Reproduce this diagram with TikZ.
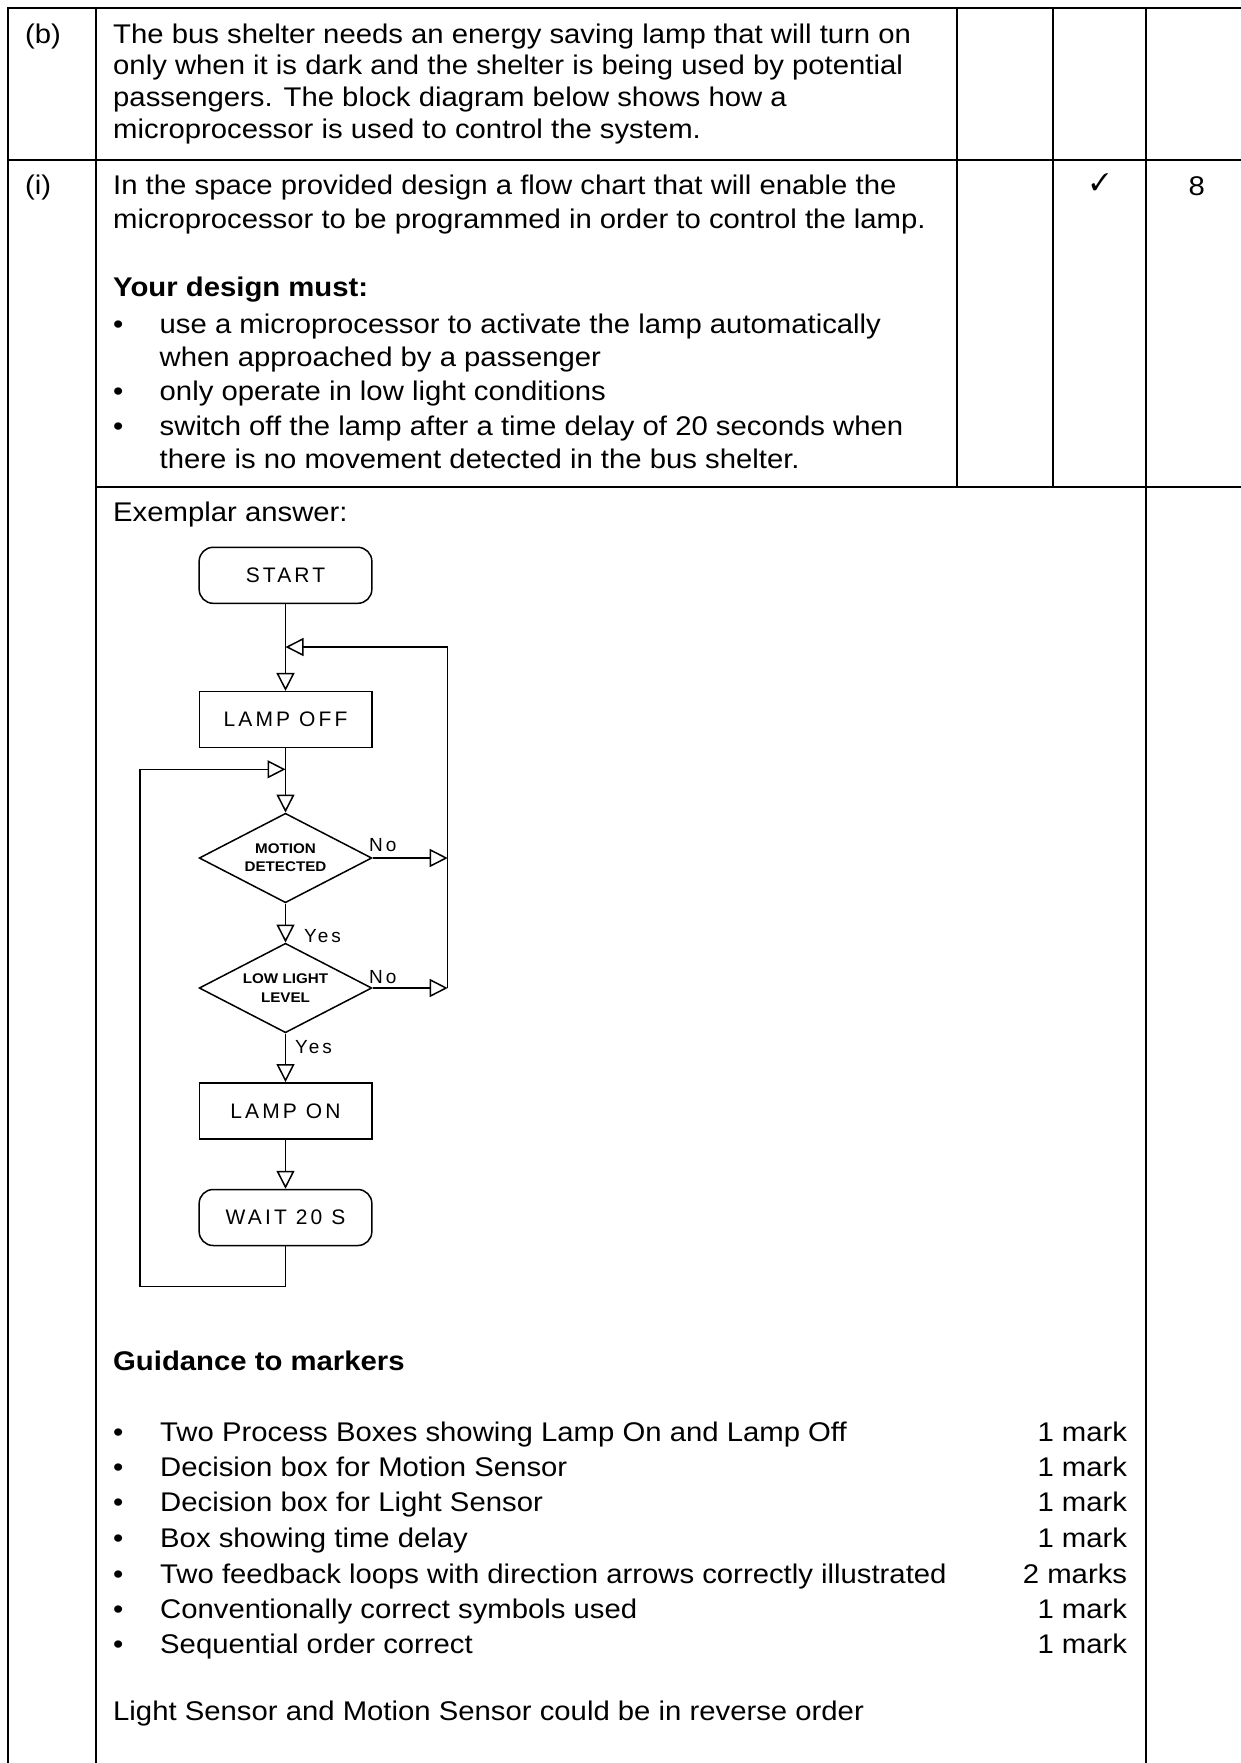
\documentclass[tikz,border=0pt]{standalone}
\usepackage{fontspec}
\usepackage{pifont}
\setmainfont{Liberation Sans}[FakeStretch=1.085]
\newfontfamily\chartfont[LetterSpace=15]{Liberation Sans}
\usetikzlibrary{arrows.meta,shapes.geometric}
\begin{document}
\begin{tikzpicture}[x=1pt,y=-1pt,
  grid/.style={line width=2.2pt, line cap=rect},
  txt/.style={anchor=base west, inner sep=0pt, font=\fontsize{27}{32}\selectfont},
  txtb/.style={txt, font=\fontsize{27}{32}\selectfont\bfseries},
  marktxt/.style={anchor=base east, inner sep=0pt, font=\fontsize{27}{32}\selectfont},
  bul/.style={anchor=base west, inner sep=0pt, font=\fontsize{27}{32}\selectfont},
  fl/.style={line width=1.5pt},
  term/.style={fl, draw, rounded corners=14pt, minimum width=172.7pt, minimum height=56pt, inner sep=0pt, font=\chartfont\fontsize{21}{25}\selectfont},
  proc/.style={fl, draw, rectangle, minimum width=172.5pt, minimum height=56pt, inner sep=0pt, font=\chartfont\fontsize{21}{25}\selectfont},
  dec/.style={fl, draw, diamond, aspect=1.93, minimum width=172.7pt, minimum height=89.5pt, inner sep=0pt, align=center, font=\bfseries\fontsize{14}{18.3}\selectfont},
  lbl/.style={anchor=base west, inner sep=0pt, font=\chartfont\fontsize{19}{22}\selectfont},
  arr/.style={fl, -{Triangle[open,length=18pt,width=18pt]}}
]
\useasboundingbox (0,0) rectangle (1240,1763);

% table frame
\draw[grid] (1240,8) -- (8,8) -- (8,1763);
\draw[grid] (96,8) -- (96,1763);
\draw[grid] (8,160) -- (1240,160);
\draw[grid] (96,486.7) -- (1240,486.7);
\draw[grid] (957,8) -- (957,486.7);
\draw[grid] (1053,8) -- (1053,486.7);
\draw[grid] (1146,8) -- (1146,1763);

% row (b)
\node[txt] (lb) at (25,43.3) {(b)};
\node[txt] (b1) at (113,43.3) {The bus shelter needs an energy saving lamp that will turn on};
\node[txt] (b2) at (113,75) {only when it is dark and the shelter is being used by potential};
\node[txt] (b3) at (113,106.7) {passengers. The block diagram below shows how a};
\node[txt] (b4) at (113,138.3) {microprocessor is used to control the system.};

% row (i)
\node[txt] (li) at (25,195) {(i)};
\node[txt] (i1) at (113,195) {In the space provided design a flow chart that will enable the};
\node[txt] (i2) at (113,228.3) {microprocessor to be programmed in order to control the lamp.};
\node[txtb] (must) at (113,296.7) {Your design must:};
\node[bul] (d1b) at (113,333.3) {\textbullet};
\node[txt] (m1) at (159.5,333.3) {use a microprocessor to activate the lamp automatically};
\node[txt] (m1b) at (159.5,366.7) {when approached by a passenger};
\node[bul] (d2b) at (113,400) {\textbullet};
\node[txt] (m2) at (159.5,400) {only operate in low light conditions};
\node[bul] (d3b) at (113,435) {\textbullet};
\node[txt] (m3) at (159.5,435) {switch off the lamp after a time delay of 20 seconds when};
\node[txt] (m3b) at (159.5,468.3) {there is no movement detected in the bus shelter.};
\node[inner sep=0pt, font=\fontsize{24}{24}\selectfont] (tick) at (1100,182) {\ding{51}};
\node[inner sep=0pt, anchor=base, font=\fontsize{27}{32}\selectfont] (eight) at (1196.7,196) {8};

\node[txt] (ex) at (113,521.7) {Exemplar answer:};

% flowchart
\node[term] (start) at (285.5,575.3) {START};
\node[proc] (lampoff) at (285.5,719.7) {LAMP OFF\hspace{8pt}};
\node[dec] (dm) at (285.5,858) {MOTION\\DETECTED};
\node[dec] (dl) at (285.5,988) {LOW LIGHT\\LEVEL};
\node[proc] (lampon) at (285.5,1110.8) {LAMP ON\hspace{8pt}};
\node[term] (wait) at (285.5,1217.5) {WAIT 20 S\hspace{6pt}};

\coordinate (j1) at (285.5,647);
\coordinate (j2) at (285.5,769.3);
\coordinate (r1) at (447.7,858);
\coordinate (r2) at (447.7,988);
\coordinate (rt) at (447.7,647);
\coordinate (wb) at (285.5,1286.7);
\coordinate (lbot) at (140,1286.7);
\coordinate (ltop) at (140,769.3);

\draw[arr] (start.south) -- (lampoff.north);
\draw[arr] (lampoff.south) -- (dm.north);
\draw[arr] (dm.south) -- (dl.north);
\draw[arr] (dl.south) -- (lampon.north);
\draw[arr] (lampon.south) -- (wait.north);
\draw[arr] (dm.east) -- (r1);
\draw[arr] (dl.east) -- (r2);
\draw[arr] (r2) -- (rt) -- (j1);
\draw[arr] (wait.south) -- (wb) -- (lbot) -- (ltop) -- (j2);

\node[lbl] (no1) at (369,851.7) {No};
\node[lbl] (yes1) at (304,942.7) {Yes};
\node[lbl] (no2) at (369,983.3) {No};
\node[lbl] (yes2) at (295,1053.3) {Yes};

% guidance
\node[txtb] (gh) at (113,1370) {Guidance to markers};
\node[bul] (g1d) at (113,1441.5) {\textbullet};
\node[txt] (g1) at (160,1441.5) {Two Process Boxes showing Lamp On and Lamp Off};
\node[marktxt] (g1m) at (1127.3,1441.5) {1 mark};
\node[bul] (g2d) at (113,1476.7) {\textbullet};
\node[txt] (g2) at (160,1476.7) {Decision box for Motion Sensor};
\node[marktxt] (g2m) at (1127.3,1476.7) {1 mark};
\node[bul] (g3d) at (113,1511.9) {\textbullet};
\node[txt] (g3) at (160,1511.9) {Decision box for Light Sensor};
\node[marktxt] (g3m) at (1127.3,1511.9) {1 mark};
\node[bul] (g4d) at (113,1547.8) {\textbullet};
\node[txt] (g4) at (160,1547.8) {Box showing time delay};
\node[marktxt] (g4m) at (1127.3,1547.8) {1 mark};
\node[bul] (g5d) at (113,1583.3) {\textbullet};
\node[txt] (g5) at (160,1583.3) {Two feedback loops with direction arrows correctly illustrated};
\node[marktxt] (g5m) at (1127.3,1583.3) {2 marks};
\node[bul] (g6d) at (113,1618.5) {\textbullet};
\node[txt] (g6) at (160,1618.5) {Conventionally correct symbols used};
\node[marktxt] (g6m) at (1127.3,1618.5) {1 mark};
\node[bul] (g7d) at (113,1653.8) {\textbullet};
\node[txt] (g7) at (160,1653.8) {Sequential order correct};
\node[marktxt] (g7m) at (1127.3,1653.8) {1 mark};

\node[txt] (rev) at (113,1720.7) {Light Sensor and Motion Sensor could be in reverse order};
\end{tikzpicture}
\end{document}
